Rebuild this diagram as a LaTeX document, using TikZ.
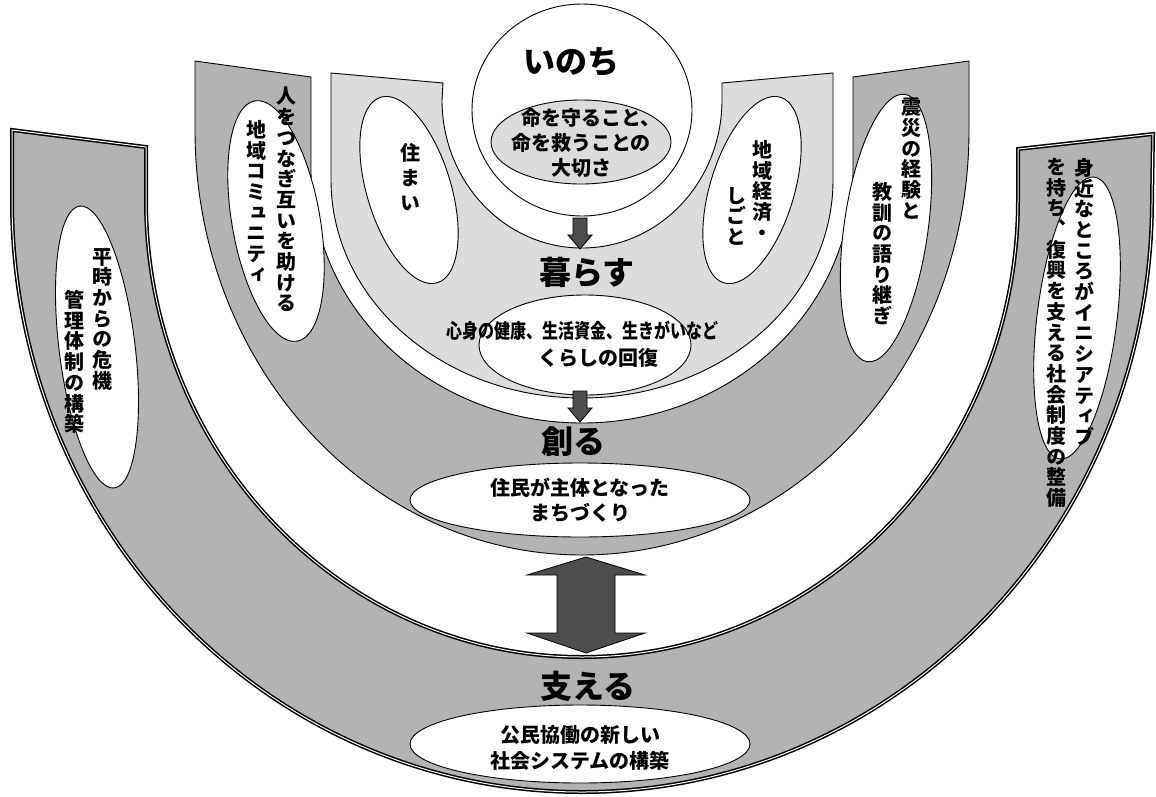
\documentclass[tikz,border=0pt]{standalone}
\usepackage{fontspec}
\newfontfamily\jp{Noto Sans CJK JP}
\newfontfamily\jpv{Noto Sans CJK JP}[RawFeature=+vert]
\usetikzlibrary{shapes.geometric}
\definecolor{bandgray}{HTML}{B3B3B3}
\definecolor{lightgray2}{HTML}{DCDCDC}
\definecolor{arrowgray}{HTML}{4D4D4D}
\makeatletter
\newcommand\vcol[2][20.7pt]{\vbox{\baselineskip=#1\lineskip=0pt\lineskiplimit=-100pt\@tfor\vc:=#2\do{\hbox to 20pt{\hss\vc\hss}}}}
\makeatother
\begin{document}
\begin{tikzpicture}[x=1pt,y=-1pt,
 band/.style={fill=bandgray, draw=black, line width=0.9pt},
 lband/.style={fill=lightgray2, draw=black, line width=0.9pt},
 oband/.style={fill=bandgray, draw=black, line width=1.5pt, double=white, double distance=1pt},
 bubble/.style={ellipse, draw=black, fill=white, line width=0.9pt, inner sep=0pt},
 blockarrow/.style={fill=arrowgray, draw=black, line width=0.8pt, line join=miter},
 biglabel/.style={font=\jp\bfseries\fontsize{32}{36}\selectfont, inner sep=0pt},
 txt/.style={font=\jp\bfseries\fontsize{20}{25}\selectfont, align=center, inner sep=0pt},
 vtxt/.style={font=\jpv\bfseries\fontsize{20}{20}\selectfont, inner sep=0pt, anchor=north}]
\useasboundingbox (0,0) rectangle (1156,796);
\fill[white] (0,0) rectangle (1156,796);
% outer band (support)
\draw[oband] (12,130) -- (146,147) -- (146,200) arc[start angle=180,end angle=0,x radius=436,y radius=457] -- (1018,149) -- (1153,134) -- (1152,200) arc[start angle=0,end angle=180,x radius=570,y radius=592] -- cycle;
% middle band (create)
\draw[band] (195,61) -- (311,77) -- (311,170) arc[start angle=180,end angle=0,x radius=271,y radius=253] -- (853,77) -- (969,61) -- (969,130) arc[start angle=0,end angle=180,x radius=387,y radius=425] -- cycle;
% light band (live)
\draw[lband] (331,73) -- (443,83) -- (442,100) arc[start angle=180,end angle=0,x radius=140,y radius=148] -- (722,83) -- (833,73) -- (833,180) arc[start angle=0,end angle=180,x radius=251,y radius=218] -- cycle;
% life circle
\node[bubble, minimum width=220pt, minimum height=212pt] (life) at (582,110) {};
\node[bubble, fill=lightgray2, minimum width=180pt, minimum height=84pt] (lifecore) at (581,142) {};
% side bubbles
\node[bubble, minimum width=84pt, minimum height=194pt, rotate=17] (house) at (409,190) {};
\node[bubble, minimum width=84pt, minimum height=194pt, rotate=-17] (work) at (752,190) {};
\node[bubble, minimum width=88pt, minimum height=244pt, rotate=10] (comm) at (276,221) {};
\node[bubble, minimum width=84pt, minimum height=270pt, rotate=-8] (lesson) at (886,228) {};
\node[bubble, minimum width=76pt, minimum height=284pt, rotate=7] (crisis) at (97,347) {};
\node[bubble, minimum width=80pt, minimum height=284pt, rotate=-7] (init) at (1077,318) {};
% bottom bubbles
\node[bubble, minimum width=212pt, minimum height=100pt] (kbubble) at (585,345) {};
\node[bubble, minimum width=340pt, minimum height=74pt] (tbubble) at (580,500) {};
\node[bubble, minimum width=340pt, minimum height=78pt] (sbubble) at (580,744) {};
% arrows
\draw[blockarrow] (573,218) -- (587,218) -- (587,235) -- (592,235) -- (580,249) -- (568,235) -- (573,235) -- cycle;
\draw[blockarrow] (573,391) -- (587,391) -- (587,408) -- (592,408) -- (580,422) -- (568,408) -- (573,408) -- cycle;
\draw[blockarrow] (586,557) -- (645,575) -- (615,575) -- (615,633) -- (645,633) -- (586,653) -- (527,633) -- (557,633) -- (557,575) -- (527,575) -- cycle;
% horizontal texts
\node[biglabel] (tinochi) at (571,62) {いのち};
\node[txt] (tcore) at (581,143) {\hspace*{20pt}命を守ること、\\命を救うことの\\大切さ};
\node[biglabel] (tkurasu) at (587,272) {暮らす};
\node[txt, font=\jp\bfseries\fontsize{20}{27}\selectfont] (tkokoro) at (582,344) {\scalebox{0.8}[1]{心身の健康、生活資金、生きがいなど}\\\hspace*{32pt}くらしの回復};
\node[biglabel] (tsukuru) at (573,442) {創る};
\node[txt] (ttown) at (580,500) {住民が主体となった\\まちづくり};
\node[biglabel] (tsasaeru) at (588,686) {支える};
\node[txt, font=\jp\bfseries\fontsize{20}{26.5}\selectfont] (tsystem) at (580,748) {公民協働の新しい\\社会システムの構築};
% vertical texts
\node[vtxt] (vcomm1) at (286,87) {\vcol{人をつなぎ互いを助ける}};
\node[vtxt] (vcomm2) at (256,120) {\vcol{地域コミュニティ}};
\node[vtxt] (vhouse) at (410,143) {\vcol[25pt]{住まい}};
\node[vtxt] (vwork1) at (762,140) {\vcol{地域経済・}};
\node[vtxt] (vwork2) at (736,187) {\vcol{しごと}};
\node[vtxt] (vless1) at (911,98) {\vcol{震災の経験と}};
\node[vtxt] (vless2) at (882,182) {\vcol{教訓の語り継ぎ}};
\node[vtxt] (vcris1) at (102,248) {\vcol{平時からの危機}};
\node[vtxt] (vcris2) at (74,290) {\vcol{管理体制の構築}};
\node[vtxt] (vinit1) at (1084,158) {\vcol{身近なところがイニシアティブ}};
\node[vtxt] (vinit2) at (1056,158) {\vcol{を持ち、復興を支える社会制度の整備}};
\end{tikzpicture}
\end{document}
